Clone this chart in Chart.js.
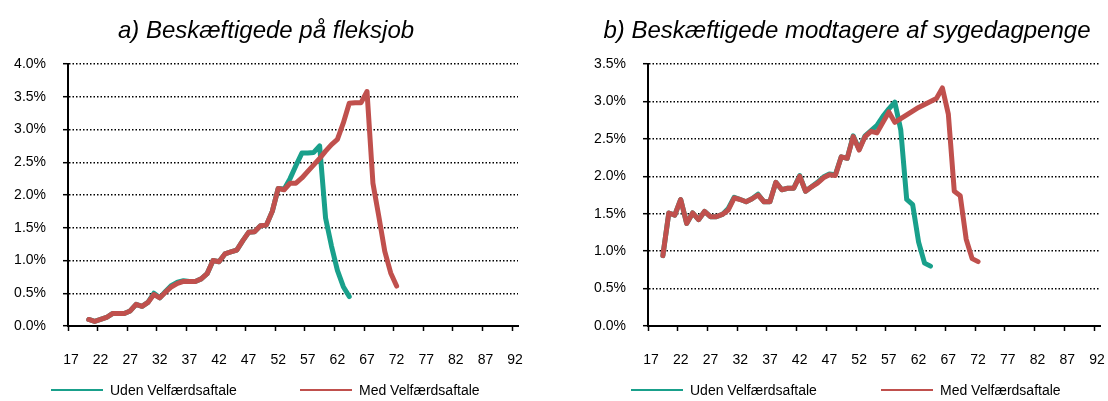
<!DOCTYPE html>
<html>
<head>
<meta charset="utf-8">
<script src="https://cdn.jsdelivr.net/npm/chart.js@4.4.1/dist/chart.umd.min.js"></script>
<style>
html,body{margin:0;padding:0;background:#fff;}
#wrap{position:relative;width:1108px;height:401px;overflow:hidden;font-family:"Liberation Sans",Arial,sans-serif;color:#000;}
canvas{position:absolute;top:0;}
.title{position:absolute;top:16px;font-style:italic;font-size:24px;line-height:28px;white-space:nowrap;transform:translateX(-50%);}
.leg{position:absolute;top:382px;font-size:14px;line-height:16px;white-space:nowrap;}
.leg span.ln{display:inline-block;width:52px;height:2px;vertical-align:middle;margin-right:7px;position:relative;top:-1px;}
</style>
</head>
<body>
<div id="wrap">
  <canvas id="c1" width="554" height="401" style="left:0px"></canvas>
  <canvas id="c2" width="554" height="401" style="left:554px"></canvas>
  <div class="title" style="left:266px">a) Beskæftigede på fleksjob</div>
  <div class="title" style="left:847px">b) Beskæftigede modtagere af sygedagpenge</div>
  <div class="leg" style="left:51px"><span class="ln" style="background:#19a08b"></span>Uden Velfærdsaftale</div>
  <div class="leg" style="left:300px"><span class="ln" style="background:#c0504d"></span>Med Velfærdsaftale</div>
  <div class="leg" style="left:631px"><span class="ln" style="background:#19a08b"></span>Uden Velfærdsaftale</div>
  <div class="leg" style="left:881px"><span class="ln" style="background:#c0504d"></span>Med Velfærdsaftale</div>
</div>
<script>
// Categories (age)
const ages = ['17','18','19','20','21','22','23','24','25','26','27','28','29','30','31','32','33','34','35','36',
  '37','38','39','40','41','42','43','44','45','46','47','48','49','50','51','52','53','54','55','56',
  '57','58','59','60','61','62','63','64','65','66','67','68','69','70','71','72','73','74','75','76',
  '77','78','79','80','81','82','83','84','85','86','87','88','89','90','91','92'];
// Tick labels shown on the x axis
const xTickLabels = ['17','22','27','32','37','42','47','52','57','62','67','72','77','82','87','92'];

// a) Fleksjob (percent), first value at age 20
const flexStartAge = '20';
const flexUden = [0.10,0.07,0.10,0.13,0.19,0.19,0.19,0.23,0.33,0.30,
  0.36,0.50,0.43,0.53,0.62,0.67,0.69,0.68,0.68,0.72,
  0.80,1.00,0.98,1.10,1.13,1.16,1.30,1.43,1.44,1.53,
  1.54,1.75,2.10,2.09,2.25,2.45,2.64,2.64,2.65,2.75,
  1.65,1.22,0.85,0.60,0.45];
const flexMed = [0.10,0.07,0.10,0.13,0.19,0.19,0.19,0.23,0.33,0.30,
  0.36,0.48,0.43,0.52,0.60,0.65,0.68,0.68,0.68,0.72,
  0.80,1.00,0.98,1.10,1.13,1.16,1.30,1.43,1.44,1.53,
  1.54,1.75,2.10,2.08,2.18,2.18,2.26,2.36,2.46,2.56,
  2.67,2.77,2.85,3.10,3.40,3.41,3.41,3.58,2.18,1.67,
  1.14,0.81,0.61];
const flexTicks = [0,0.5,1,1.5,2,2.5,3,3.5,4];

// b) Sygedagpenge (percent), first value at age 19
const sygStartAge = '19';
const sygUden = [0.94,1.51,1.48,1.69,1.37,1.51,1.42,1.53,1.46,1.46,
  1.49,1.57,1.72,1.69,1.66,1.70,1.76,1.66,1.66,1.92,
  1.82,1.84,1.84,2.01,1.80,1.86,1.92,1.99,2.03,2.02,
  2.26,2.24,2.54,2.36,2.54,2.61,2.68,2.80,2.90,2.99,
  2.62,1.69,1.62,1.12,0.84,0.80];
const sygMed = [0.94,1.51,1.48,1.69,1.37,1.51,1.42,1.53,1.46,1.46,
  1.49,1.55,1.71,1.69,1.66,1.70,1.75,1.66,1.66,1.92,
  1.82,1.84,1.84,2.00,1.80,1.86,1.91,1.98,2.02,2.01,
  2.26,2.24,2.53,2.35,2.53,2.60,2.58,2.72,2.86,2.72,
  2.77,2.82,2.87,2.92,2.96,3.00,3.04,3.18,2.83,1.80,
  1.74,1.16,0.90,0.86];
const sygTicks = [0,0.5,1,1.5,2,2.5,3,3.5];

const GREEN = '#19a08b';
const RED = '#c0504d';
const FONT = '"Liberation Sans", Arial, sans-serif';

function toSeries(values, startAge) {
  const out = ages.map(() => null);
  const s = ages.indexOf(startAge);
  values.forEach((v, i) => { out[s + i] = v; });
  return out;
}

function makeChart(id, uden, med, startAge, yTicks, axisWidth, padRight) {
  const yMax = yTicks[yTicks.length - 1];
  new Chart(document.getElementById(id), {
    type: 'line',
    data: {
      labels: ages,
      datasets: [
        { label: 'Med Velfærdsaftale', data: toSeries(med, startAge), borderColor: RED, borderWidth: 5,
          pointRadius: 0, borderJoinStyle: 'round', borderCapStyle: 'round', tension: 0, fill: false },
        { label: 'Uden Velfærdsaftale', data: toSeries(uden, startAge), borderColor: GREEN, borderWidth: 5,
          pointRadius: 0, borderJoinStyle: 'round', borderCapStyle: 'round', tension: 0, fill: false }
      ]
    },
    options: {
      responsive: false,
      animation: false,
      devicePixelRatio: 1,
      plugins: { legend: { display: false }, tooltip: { enabled: false }, title: { display: false } },
      layout: { padding: { top: 64, right: padRight, bottom: 35, left: 0 } },
      scales: {
        x: {
          type: 'category',
          offset: true,
          grid: {
            offset: true, drawOnChartArea: false, drawTicks: true, tickLength: 5, tickWidth: 1.5,
            color: 'rgba(0,0,0,0)',
            tickColor: c => (c.index !== undefined && c.index % 5 === 0) ? '#000' : 'rgba(0,0,0,0)'
          },
          border: { display: true, color: '#000', width: 2 },
          ticks: {
            autoSkip: false, maxRotation: 0, minRotation: 0, padding: 21, color: '#000',
            font: { size: 14, family: FONT },
            callback: (v, i) => xTickLabels.includes(ages[i]) ? ages[i] : ''
          },
          afterFit: s => { s.height = 40; s.paddingLeft = 0; s.paddingRight = 0; }
        },
        y: {
          min: 0, max: yMax,
          afterBuildTicks: s => { s.ticks = yTicks.map(v => ({ value: v })); },
          ticks: {
            padding: 17, color: '#000', font: { size: 14, family: FONT },
            callback: v => v.toFixed(1) + '%'
          },
          grid: { color: '#000', lineWidth: 1.4, drawTicks: true, tickLength: 5, tickWidth: 1.5, tickColor: '#000' },
          border: { display: true, color: '#000', width: 2, dash: [1.5, 2] },
          afterFit: s => { s.width = axisWidth; }
        }
      }
    }
  });
}

makeChart('c1', flexUden, flexMed, flexStartAge, flexTicks, 68, 36);
makeChart('c2', sygUden, sygMed, sygStartAge, sygTicks, 94, 8);
</script>
</body>
</html>
